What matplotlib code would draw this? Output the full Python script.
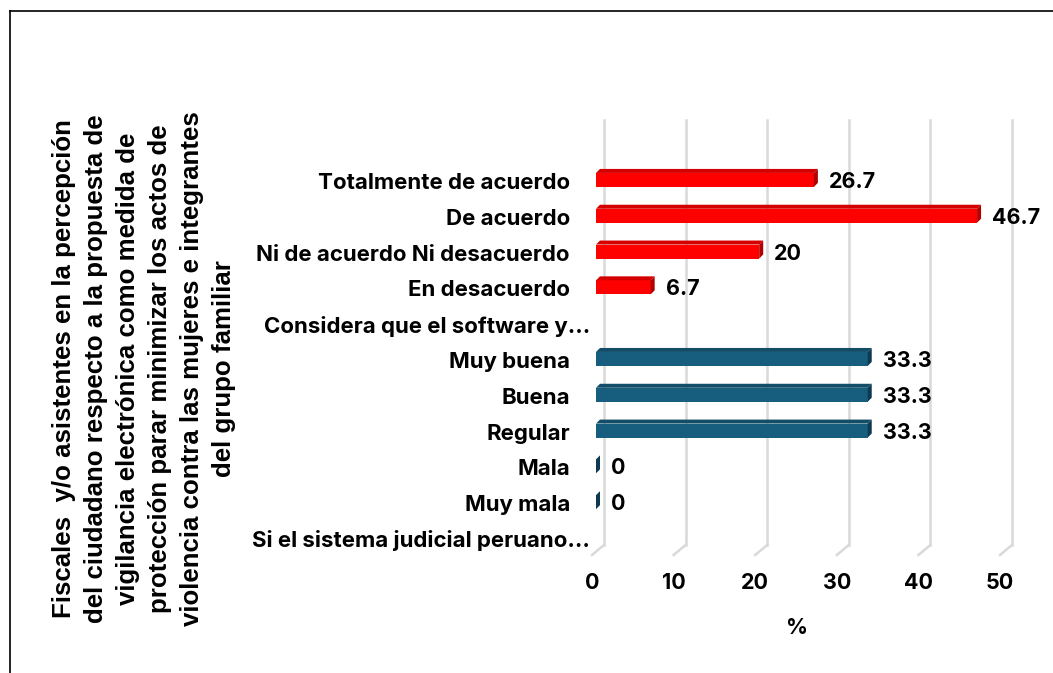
#!/usr/bin/env python3
"""
3D-style horizontal bar chart: percepcion de fiscales sobre vigilancia electronica
"""

import matplotlib
matplotlib.use('Agg')
import matplotlib.pyplot as plt
from matplotlib.patches import Polygon
from matplotlib.lines import Line2D
from matplotlib.transforms import ScaledTranslation, blended_transform_factory

# Data (top to bottom)
CATEGORIES = [
    "Totalmente de acuerdo",
    "De acuerdo",
    "Ni de acuerdo Ni desacuerdo",
    "En desacuerdo",
    "Considera que el software y...",
    "Muy buena",
    "Buena",
    "Regular",
    "Mala",
    "Muy mala",
    "Si el sistema judicial peruano...",
]
VALUES = [26.7, 46.7, 20, 6.7, None, 33.3, 33.3, 33.3, 0, 0, None]
GROUP = ["red", "red", "red", "red", None, "teal", "teal", "teal", "teal", "teal", None]
VALUE_LABELS = ["26.7", "46.7", "20", "6.7", "", "33.3", "33.3", "33.3", "0", "0", ""]
X_TICKS = [0, 10, 20, 30, 40, 50]

Y_TITLE = ("Fiscales  y/o asistentes en la percepción\n"
           "del ciudadano respecto a la propuesta de\n"
           "vigilancia electrónica como medida de\n"
           "protección parar minimizar los actos de\n"
           "violencia contra las mujeres e integrantes\n"
           "del grupo familiar")

# front / top / side shades
SHADES = {
    "red": ("#FF0000", "#D40000", "#B00000"),
    "teal": ("#175E7E", "#134E69", "#0D3A50"),
}

LABEL_FONT = ["Inter", "DejaVu Sans"]
TITLE_FONT = ["Liberation Sans", "DejaVu Sans"]
FS = 15.5

W, H = 1053, 673
fig = plt.figure(figsize=(W / 100, H / 100), dpi=100)
ax = fig.add_axes([592 / W, 1 - 555 / H, 408 / W, 425 / H])
ax.set_xlim(0, 50)
ax.set_ylim(10.42, -1.45)
ax.axis('off')


def shift(dx, dy):
    """pixel offset transform (dy positive = up)"""
    return ScaledTranslation(dx / 100, dy / 100, fig.dpi_scale_trans)


# back wall gridlines + floor diagonals
blend = blended_transform_factory(ax.transData, ax.transAxes)
for t in X_TICKS:
    ax.add_line(Line2D([t, t], [0, 1], transform=blend + shift(12, 10),
                       color='#D9D9D9', lw=1.8, zorder=1, clip_on=False))
    x0, y0 = (blend + shift(12, 10)).transform((t, 0))
    x1, y1 = blend.transform((t, 0))
    fig.add_artist(Line2D([x0 / W, x1 / W], [y0 / H, y1 / H], transform=fig.transFigure,
                          color='#D9D9D9', lw=1.8, zorder=1))

# bars with a bit of 3D depth
BAR_H = 0.39
DEPTH = 4
bar_tr = ax.transData + shift(4, 2)
for i, (val, grp) in enumerate(zip(VALUES, GROUP)):
    if val is None:
        continue
    front, top, side = SHADES[grp]
    y_top = i - BAR_H / 2
    y_bot = i + BAR_H / 2
    ax.add_patch(Polygon([(0, y_top), (val, y_top), (val, y_bot), (0, y_bot)],
                         closed=True, facecolor=front, edgecolor='none',
                         transform=bar_tr, zorder=3, clip_on=False))
    p0 = bar_tr.transform((0, y_top))
    p1 = bar_tr.transform((val, y_top))
    p2 = bar_tr.transform((val, y_bot))
    top_poly = [(p0[0], p0[1]), (p1[0], p1[1]),
                (p1[0] + DEPTH, p1[1] + DEPTH), (p0[0] + DEPTH, p0[1] + DEPTH)]
    side_poly = [(p1[0], p1[1]), (p1[0] + DEPTH, p1[1] + DEPTH),
                 (p2[0] + DEPTH, p2[1] + DEPTH), (p2[0], p2[1])]
    for poly, col in ((top_poly, top), (side_poly, side)):
        fig.add_artist(Polygon([(x / W, y / H) for x, y in poly], closed=True,
                               facecolor=col, edgecolor='none',
                               transform=fig.transFigure, zorder=4))
    ax.text(val, i, VALUE_LABELS[i], transform=ax.transData + shift(19, 0),
            ha='left', va='center', fontsize=FS, fontweight='bold',
            family=LABEL_FONT, zorder=5, clip_on=False)

# category labels
ylab = blended_transform_factory(ax.transAxes, ax.transData)
for i, cat in enumerate(CATEGORIES):
    pad = -2 if cat.endswith('...') else -22
    ax.text(0, i, cat, transform=ylab + shift(pad, -1), ha='right', va='center',
            fontsize=16, fontweight='bold', family=LABEL_FONT)

# x tick labels and axis title
for t in X_TICKS:
    ax.text(t, 0, str(t), transform=blend + shift(0, -28), ha='center', va='center',
            fontsize=FS, fontweight='bold', family=LABEL_FONT)
fig.text(797 / W, 1 - 628 / H, "%", ha='center', va='center',
         fontsize=FS, fontweight='bold', family=LABEL_FONT)

# rotated y title
fig.text(144 / W, 1 - 369 / H, Y_TITLE, rotation=90, ha='center', va='center',
         multialignment='center', fontsize=18.6, fontweight='bold',
         family=TITLE_FONT, linespacing=1.43)

# chart frame (top and left edges visible)
fig.add_artist(Line2D([10 / W, 1], [1 - 11 / H, 1 - 11 / H], transform=fig.transFigure,
                      color='black', lw=1.2))
fig.add_artist(Line2D([10 / W, 10 / W], [0, 1 - 11 / H], transform=fig.transFigure,
                      color='black', lw=1.2))

fig.savefig('out.png', dpi=100)
